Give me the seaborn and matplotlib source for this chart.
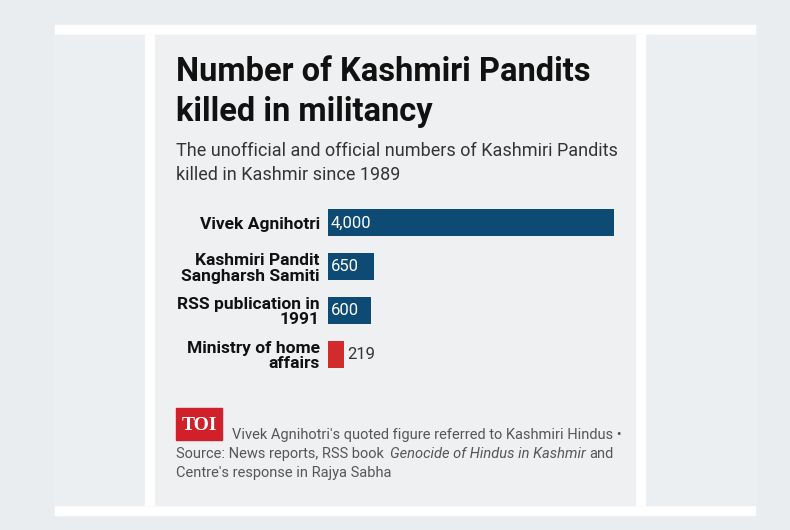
import matplotlib
matplotlib.use("Agg")
import matplotlib.pyplot as plt
import seaborn as sns
import pandas as pd
from matplotlib.patches import Rectangle

sources = ["Vivek Agnihotri", "Kashmiri Pandit\nSangharsh Samiti", "RSS publication in\n1991", "Ministry of home\naffairs"]
killed = [4000, 650, 600, 219]
value_labels = ["4,000", "650", "600", "219"]
kind = ["unofficial", "unofficial", "unofficial", "official"]

W, H = 790, 530
fig = plt.figure(figsize=(7.9, 5.3), dpi=100)
fig.patch.set_facecolor("#e9edf0")

def rect(x0, y0, x1, y1, color):
    fig.patches.append(Rectangle((x0 / W, 1 - y1 / H), (x1 - x0) / W, (y1 - y0) / H,
                                 transform=fig.transFigure, color=color, zorder=-5))

rect(55, 25, 755, 515, "white")
rect(55, 35, 755, 505, "#eceff1")
rect(145, 35, 155, 505, "white")
rect(635, 35, 645, 505, "white")
rect(155, 35, 635, 505, "#eef0f2")

fig.text(176 / W, 1 - 56 / H, "Number of Kashmiri Pandits\nkilled in militancy", fontsize=23.5,
         fontweight="bold", va="top", ha="left", color="#111", family="Roboto", linespacing=1.3)
fig.text(176 / W, 1 - 142 / H, "The unofficial and official numbers of Kashmiri Pandits\nkilled in Kashmir since 1989",
         fontsize=13, va="top", ha="left", color="#333", family="Roboto", linespacing=1.45)

ax = fig.add_axes([328 / W, 1 - 376 / H, 286 / W, 175 / H])
ax.set_facecolor("none")
df = pd.DataFrame({"source": sources, "killed": killed, "kind": kind})
sns.barplot(data=df, y="source", x="killed", hue="kind", orient="h", dodge=False,
            palette={"unofficial": "#0d4a74", "official": "#d22b2b"}, width=0.62,
            saturation=1, legend=False, ax=ax)
ax.set_xlim(0, 4000)
ax.set_xlabel("")
ax.set_ylabel("")
ax.set_xticks([])
for s in ax.spines.values():
    s.set_visible(False)
ax.tick_params(axis="y", length=0, pad=6)
for t in ax.get_yticklabels():
    t.set_fontweight("bold")
    t.set_fontsize(12.5)
    t.set_family("Roboto")
    t.set_color("#111")
    t.set_linespacing(1.05)
for i, (v, lab) in enumerate(zip(killed, value_labels)):
    if v > 400:
        ax.text(40, i, lab, color="white", va="center", ha="left", fontsize=12, family="Roboto")
    else:
        ax.text(v + 50, i, lab, color="#333", va="center", ha="left", fontsize=12, family="Roboto")

rect(176, 408, 222, 440, "#d0202a")
fig.text(199 / W, 1 - 425 / H, "TOI", color="white", fontsize=14, fontweight="bold",
         family="Liberation Serif", ha="center", va="center")
fs = 10.5
fig.text(232 / W, 1 - 428 / H, "Vivek Agnihotri's quoted figure referred to Kashmiri Hindus •",
         fontsize=fs, color="#555", ha="left", va="top", family="Roboto")
r = fig.canvas.get_renderer()
t1 = fig.text(176 / W, 1 - 447 / H, "Source: News reports, RSS book ", fontsize=fs, color="#555",
              ha="left", va="top", family="Roboto")
x1 = t1.get_window_extent(r).x1 / W + 2 / W
t2 = fig.text(x1, 1 - 447 / H, "Genocide of Hindus in Kashmir", fontsize=fs, color="#555",
              ha="left", va="top", family="Roboto", style="italic")
x2 = t2.get_window_extent(r).x1 / W + 4 / W
fig.text(x2, 1 - 447 / H, "and", fontsize=fs, color="#555", ha="left", va="top", family="Roboto")
fig.text(176 / W, 1 - 466 / H, "Centre's response in Rajya Sabha",
         fontsize=fs, color="#555", ha="left", va="top", family="Roboto")

fig.savefig("out.png", dpi=100)
